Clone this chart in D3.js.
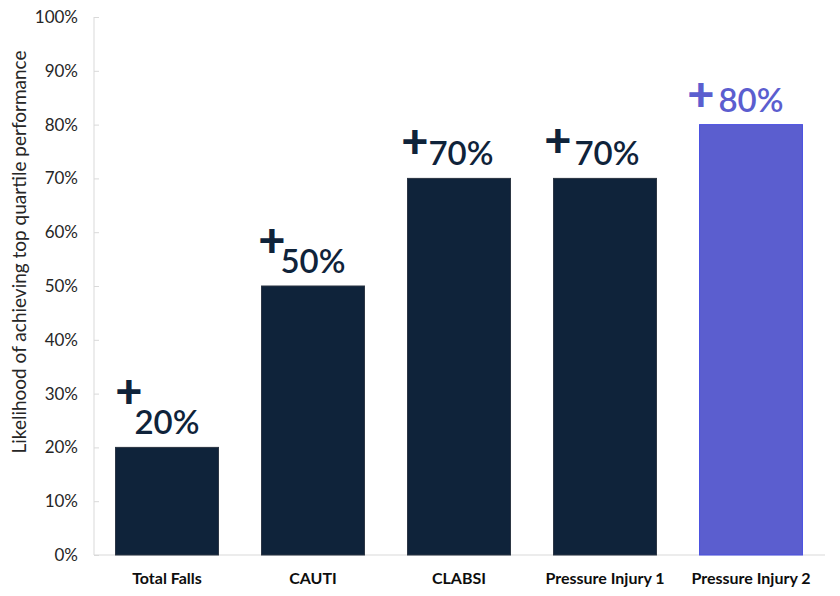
<!DOCTYPE html>
<html>
<head>
<meta charset="utf-8">
<script src="https://cdn.jsdelivr.net/npm/d3@7"></script>
<style>
  body { margin: 0; background: #fff; }
  svg { display: block; }
</style>
</head>
<body>
<div id="chart"></div>
<script>
// chart data
const categories = ["Total Falls", "CAUTI", "CLABSI", "Pressure Injury 1", "Pressure Injury 2"];
const values = [0.2, 0.5, 0.7, 0.7, 0.8];
const barColors = ["#0f233a", "#0f233a", "#0f233a", "#0f233a", "#5b5ecf"];
const yTicks = [0, 0.1, 0.2, 0.3, 0.4, 0.5, 0.6, 0.7, 0.8, 0.9, 1.0];
const yTitle = "Likelihood of achieving top quartile performance";

// where the "+" sits relative to each bar (centre x, top y)
const plusNudge = [[-38, -57], [-41, -47], [-44, -38], [-47, -39], [-50, -32]];

const width = 840, height = 596;
const margin = {top: 17, right: 16, bottom: 41, left: 94};

const svg = d3.select("#chart").append("svg")
  .attr("width", width)
  .attr("height", height);

const x = d3.scaleBand()
  .domain(categories)
  .range([margin.left, width - margin.right])
  .paddingInner(0.295)
  .paddingOuter(0.1475);

const y = d3.scaleLinear()
  .domain([0, 1])
  .range([height - margin.bottom, margin.top]);

// y axis
const yAxis = svg.append("g")
  .attr("transform", `translate(${margin.left},0)`)
  .call(d3.axisRight(y).tickValues(yTicks).tickFormat(d3.format(".0%")).tickSize(5));
yAxis.select(".domain").attr("stroke", "#d9d9d9").attr("d", `M0,${y(1)}V${y(0)}`);
yAxis.selectAll(".tick line").attr("stroke", "#d9d9d9");
yAxis.selectAll(".tick text")
  .attr("x", -16)
  .attr("text-anchor", "end")
  .attr("fill", "#262626")
  .style("font-family", "Lato, sans-serif")
  .style("font-size", "17px");

// baseline
svg.append("line")
  .attr("x1", margin.left).attr("x2", width - margin.right + 1)
  .attr("y1", y(0)).attr("y2", y(0))
  .attr("stroke", "#d9d9d9");

// y axis title
svg.append("text")
  .attr("transform", `translate(18,${(y(0) + y(1)) / 2 - 34}) rotate(-90)`)
  .attr("text-anchor", "middle")
  .attr("dominant-baseline", "central")
  .attr("fill", "#262626")
  .style("font-family", "Lato, sans-serif")
  .style("font-size", "19px")
  .text(yTitle);

// bars
svg.selectAll("rect.bar")
  .data(values)
  .join("rect")
    .attr("class", "bar")
    .attr("x", (d, i) => x(categories[i]))
    .attr("y", d => y(d))
    .attr("width", x.bandwidth())
    .attr("height", d => y(0) - y(d))
    .attr("fill", (d, i) => barColors[i])
    .attr("stroke", (d, i) => i === 4 ? "#4a50e0" : "#2a3442")
    .attr("stroke-width", 1);

// value labels
svg.selectAll("text.val")
  .data(values)
  .join("text")
    .attr("class", "val")
    .attr("x", (d, i) => x(categories[i]) + x.bandwidth() / 2 + (i === 2 || i === 3 ? 2 : 0))
    .attr("y", d => y(d) - 13)
    .attr("text-anchor", "middle")
    .attr("fill", (d, i) => barColors[i])
    .style("font-family", "Lato, sans-serif")
    .style("font-size", "33px")
    .style("font-weight", "600")
    .text(d => d3.format(".0%")(d));

// plus signs
svg.selectAll("text.plus")
  .data(values)
  .join("text")
    .attr("class", "plus")
    .attr("x", (d, i) => x(categories[i]) + x.bandwidth() / 2 + plusNudge[i][0])
    .attr("y", (d, i) => y(d) + plusNudge[i][1])
    .attr("text-anchor", "middle")
    .attr("dominant-baseline", "central")
    .attr("fill", (d, i) => barColors[i])
    .style("font-family", "Lato, sans-serif")
    .style("font-size", "47px")
    .style("font-weight", "900")
    .text("+");

// category labels
svg.selectAll("text.cat")
  .data(categories)
  .join("text")
    .attr("class", "cat")
    .attr("x", d => x(d) + x.bandwidth() / 2)
    .attr("y", y(0) + 29)
    .attr("text-anchor", "middle")
    .attr("fill", "#0d0d0d")
    .style("font-family", "Lato, sans-serif")
    .style("font-size", "16px")
    .style("font-weight", "bold")
    .text(d => d);
</script>
</body>
</html>
